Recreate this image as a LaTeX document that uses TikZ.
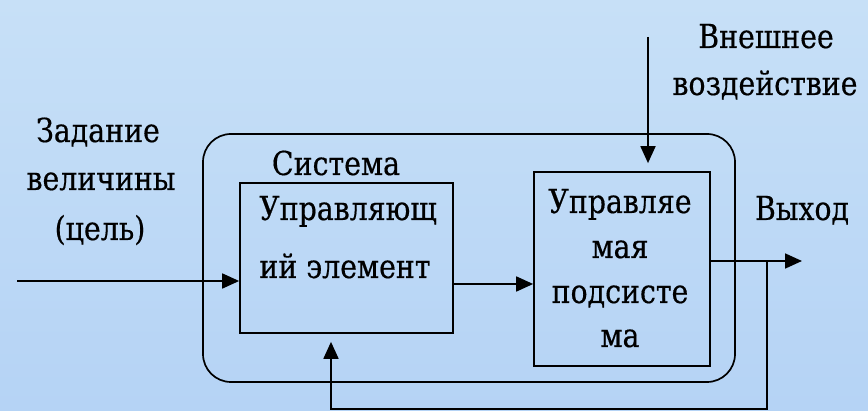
\documentclass[tikz,border=0pt]{standalone}
\usepackage{fontspec}
\setmainfont{DejaVu Serif}[FakeStretch=0.86,FakeBold=0.4]
\usetikzlibrary{arrows.meta}
\definecolor{bgtop}{RGB}{199,224,247}
\definecolor{bgbot}{RGB}{181,211,245}
\tikzset{
  blk/.style={draw, line width=1.7pt, inner sep=0pt},
  txt/.style={inner sep=0pt, anchor=base, font=\fontsize{33}{40}\selectfont},
  arr/.style={-{Triangle[length=17pt,width=15pt]}, line width=1.8pt}
}
\begin{document}
\begin{tikzpicture}[x=1pt,y=-1pt]
\shade[top color=bgtop, bottom color=bgbot] (0,0) rectangle (868,411);
\useasboundingbox (0,0) rectangle (868,411);

% system frame
\node[blk, rounded corners=28pt, minimum width=532pt, minimum height=248pt] (sys) at (469,258) {};
\node[txt] (systxt) at (336,175) {Система};

% blocks
\node[blk, minimum width=213pt, minimum height=150pt] (ctl) at (346.5,258) {};
\node[blk, minimum width=176pt, minimum height=194pt] (obj) at (622,269) {};

\node[txt] (ctl1) at (348,220) {Управляющ};
\node[txt] (ctl2) at (345,278) {ий элемент};

\node[txt] (obj1) at (620,213) {Управляе};
\node[txt] (obj2) at (620,258) {мая};
\node[txt] (obj3) at (620,303) {подсисте};
\node[txt] (obj4) at (620,347) {ма};

% outer labels
\node[txt] (goal1) at (98,142) {Задание};
\node[txt] (goal2) at (101,190) {величины};
\node[txt] (goal3) at (100,240) {(цель)};

\node[txt] (ext1) at (766,48) {Внешнее};
\node[txt] (ext2) at (765,95) {воздействие};

\node[txt] (outtxt) at (802,220) {Выход};

% connectors
\coordinate (in) at (17,281);
\coordinate (mid) at (0,284);
\coordinate (ext) at (648,37);
\coordinate (out) at (802,261);
\coordinate (fb) at (767,261);
\coordinate (fbl) at (331,409);

\draw[arr] (in) -- (in -| ctl.west);
\draw[arr] (ctl.east |- mid) -- (obj.west |- mid);
\draw[arr, shorten >=8pt] (ext) -- (ext |- obj.north);
\draw[arr] (obj.east |- out) -- (out);
\draw[arr, shorten >=8pt] (fb) |- (fbl) -- (fbl |- ctl.south);
\end{tikzpicture}
\end{document}
